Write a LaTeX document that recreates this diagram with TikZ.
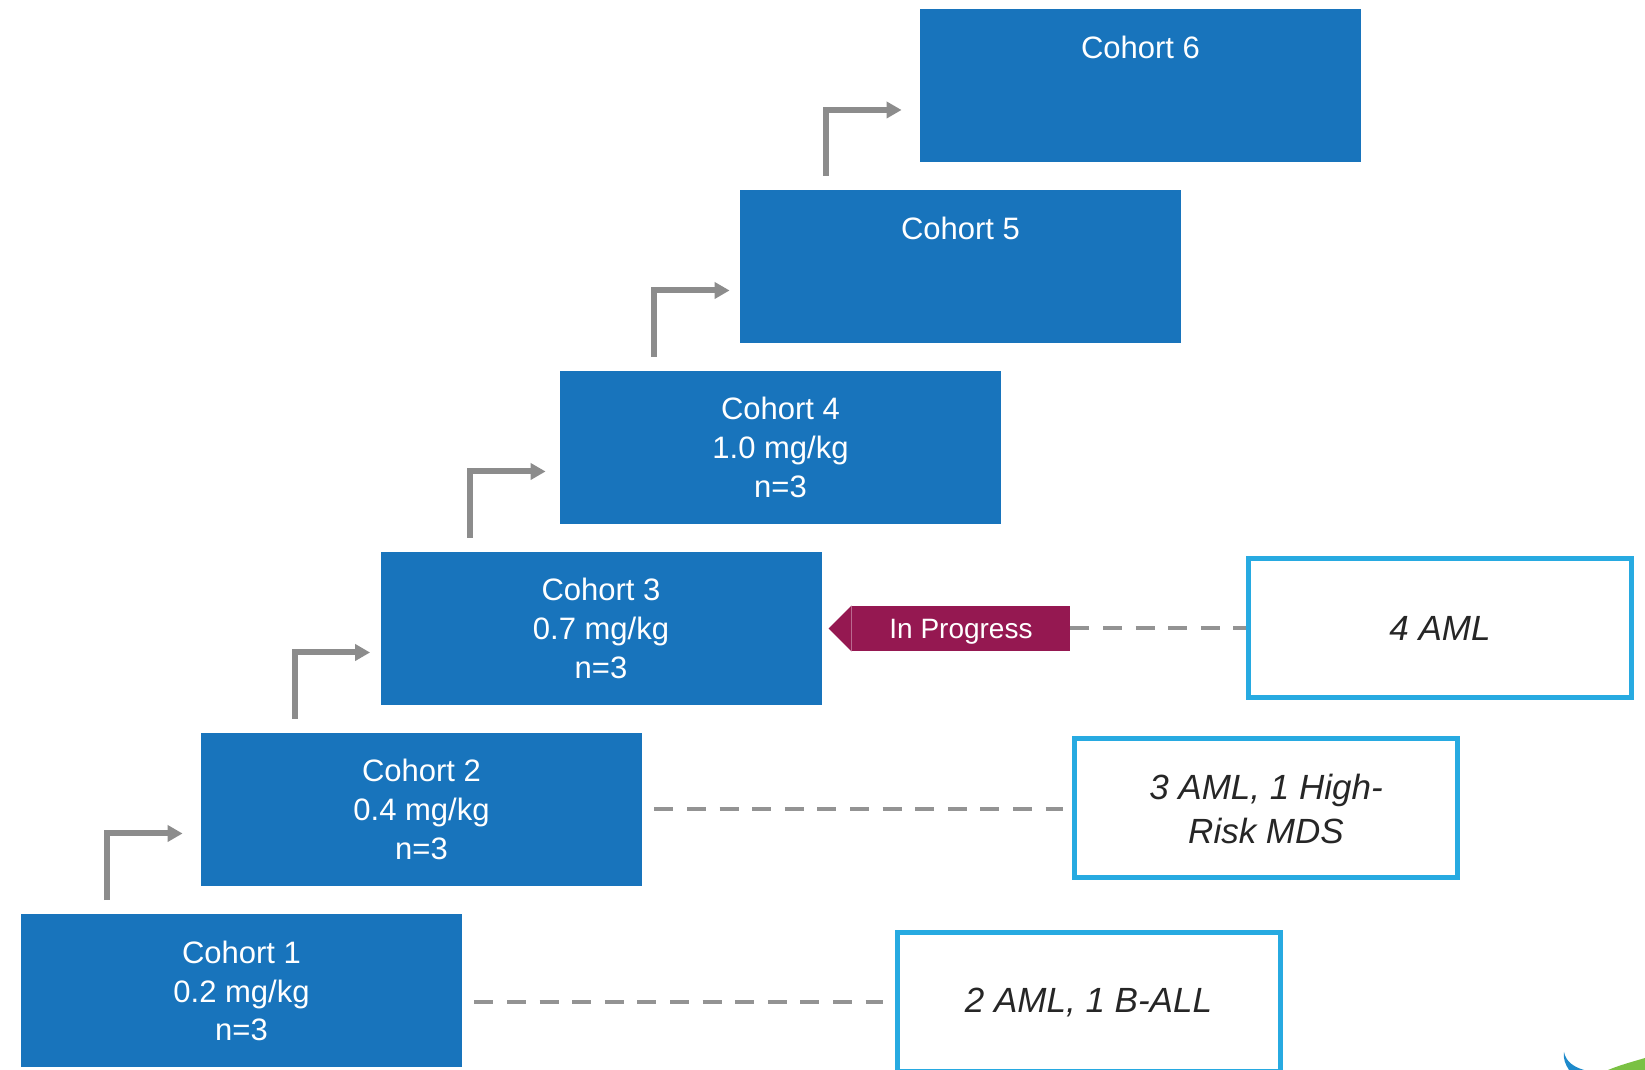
\documentclass[tikz,border=0pt]{standalone}
\usepackage{fontspec}
\setmainfont{Liberation Sans}
\usetikzlibrary{arrows.meta}
\definecolor{cohortblue}{RGB}{24,116,188}
\definecolor{caseblue}{RGB}{39,170,225}
\definecolor{tagred}{RGB}{149,24,81}
\definecolor{arrowgray}{RGB}{140,140,140}
\definecolor{dashgray}{RGB}{147,147,147}
\definecolor{casetext}{RGB}{38,38,38}
\definecolor{logogreen}{RGB}{122,193,67}
\begin{document}
\begin{tikzpicture}[x=0.5pt, y=0.5pt,
  cohort/.style={fill=cohortblue, text=white, minimum width=220.5pt, minimum height=76.5pt,
    align=center, inner sep=0pt, font=\fontsize{15.5}{19.3}\selectfont},
  cases/.style={draw=caseblue, line width=2.5pt, fill=white, minimum width=191.5pt,
    minimum height=69.5pt, align=center, inner sep=0pt, text=casetext,
    font=\fontsize{17.5}{22}\selectfont\itshape},
  climb/.style={draw=arrowgray, line width=3pt, -{Triangle[length=7.5pt,width=8pt]}},
  link/.style={draw=dashgray, line width=2pt, dash pattern=on 9.5pt off 6.8pt}]
  \useasboundingbox (0,0) rectangle (1645,1070);
  % dose escalation steps
  \node[cohort] (c1) at (241.5,79) {Cohort 1\\0.2 mg/kg\\n=3};
  \node[cohort] (c2) at (421.5,260.5) {Cohort 2\\0.4 mg/kg\\n=3};
  \node[cohort] (c3) at (601,441.5) {Cohort 3\\0.7 mg/kg\\n=3};
  \node[cohort] (c4) at (780.5,622.5) {Cohort 4\\1.0 mg/kg\\n=3};
  \node[cohort] (c5) at (960.5,803.5) {Cohort 5\\~\\~};
  \node[cohort] (c6) at (1140.5,984) {Cohort 6\\~\\~};
  \draw[climb] ([xshift=43pt,yshift=7pt]c1.north west) |- ([xshift=-9pt,yshift=-12pt]c2.west);
  \draw[climb] ([xshift=47pt,yshift=7pt]c2.north west) |- ([xshift=-5pt,yshift=-12pt]c3.west);
  \draw[climb] ([xshift=45pt,yshift=7pt]c3.north west) |- ([xshift=-7pt,yshift=-12pt]c4.west);
  \draw[climb] ([xshift=47pt,yshift=7pt]c4.north west) |- ([xshift=-5pt,yshift=-12pt]c5.west);
  \draw[climb] ([xshift=43pt,yshift=7pt]c5.north west) |- ([xshift=-9pt,yshift=-12pt]c6.west);
  % enrolled patients
  \node[cases] (aml1) at (1088.5,67.5) {2 AML, 1 B-ALL};
  \node[cases] (aml2) at (1266,261.5) {3 AML, 1 High-\\Risk MDS};
  \node[cases] (aml3) at (1440,441.5) {4 AML};
  \draw[link, shorten <=6pt, shorten >=6pt] (c1.east |- aml1.west) -- (aml1.west);
  \draw[link, shorten <=6pt, shorten >=4.5pt] (c2.east) -- (c2.east -| aml2.west);
  % status tag
  \node[fill=tagred, text=white, minimum width=109pt, minimum height=22.5pt, inner sep=0pt,
    text height=10pt, text depth=0pt, font=\fontsize{14}{16}\selectfont] (prog) at (961,441.5) {In Progress};
  \fill[tagred] (prog.north west) -- ([xshift=-11.5pt]prog.west) -- (prog.south west) -- cycle;
  \draw[link] (prog.east) -- (prog.east -| aml3.west);
  % logo corner
  \fill[cohortblue!60!caseblue] (1564,18) .. controls (1566,8) and (1574,3) .. (1584,0)
    -- (1569,0) .. controls (1565,6) and (1563,12) .. cycle;
  \fill[logogreen] (1608,0) .. controls (1620,5) and (1635,9) .. (1645,12) -- (1645,0) -- cycle;
\end{tikzpicture}
\end{document}
